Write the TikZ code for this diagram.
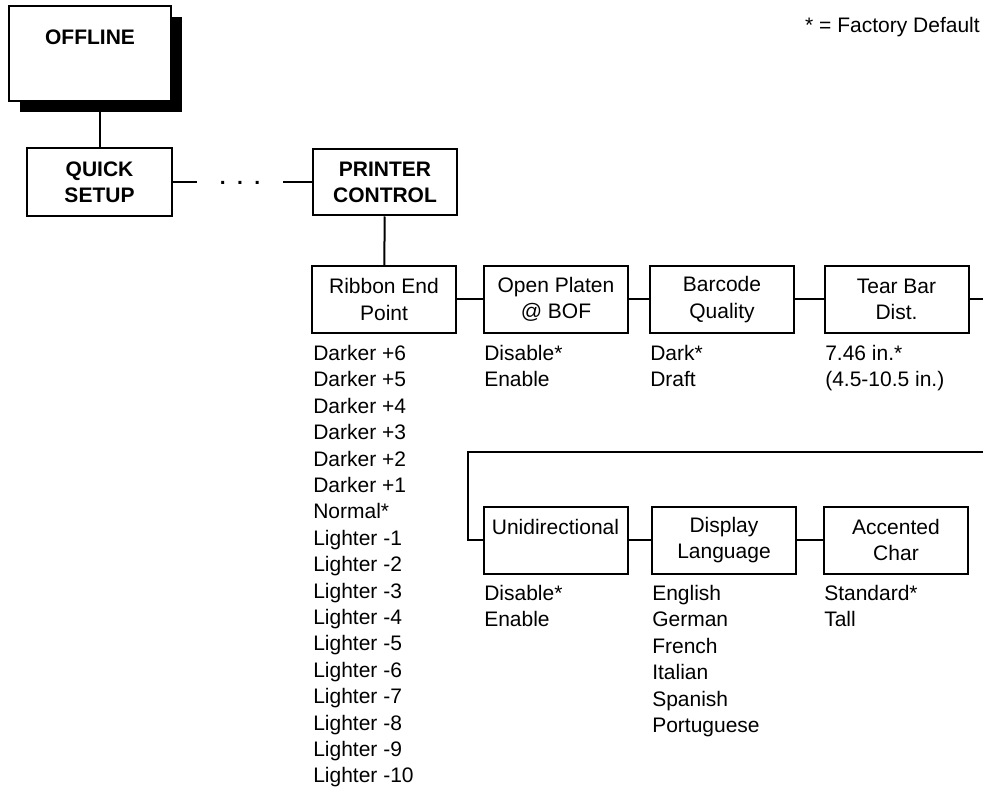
\documentclass[tikz,border=0pt]{standalone}
\usepackage{fontspec}
\setmainfont{Liberation Sans}
\usetikzlibrary{shadows}
\newcommand{\menufont}{\fontsize{15.75}{19.8}\selectfont}

\tikzset{
  menubox/.style={draw, line width=1.5pt, fill=white, inner sep=0pt, align=center,
    minimum width=108pt, minimum height=50.25pt, font=\menufont},
  headbox/.style={menubox, font=\menufont\bfseries},
  choices/.style={inner sep=0pt, align=left, anchor=north west, font=\menufont},
  link/.style={line width=1.5pt}
}

\begin{document}
\begin{tikzpicture}[x=0.75pt, y=-0.75pt]
\useasboundingbox (0,0) rectangle (983,788);
\node[anchor=base east, inner sep=0pt, font=\menufont] (legend) at (980,32.5) {* = Factory Default};

\node[headbox, minimum width=121.5pt, minimum height=71.25pt,
  drop shadow={shadow xshift=8.5pt, shadow yshift=-8.5pt, fill=black, opacity=1}] (offline) at (90,53.5) {};
\node[inner sep=0pt, font=\menufont\bfseries] (offlabel) at (90,37) {OFFLINE};
\node[headbox, minimum width=108.75pt, minimum height=51pt] (quick) at (99.5,182.5) {QUICK\\SETUP};
\node[inner sep=0pt, minimum width=64.5pt, font=\menufont\bfseries] (dots) at (240,182.5)
  {.\hspace{8.5pt}.\hspace{8.5pt}.};
\node[headbox, minimum height=49.5pt] (printer) at (385,182.5) {PRINTER\\CONTROL};
\draw[link] (quick.north) -- (quick.north |- offline.south);
\draw[link] (quick) -- (dots) -- (printer);

\node[menubox] (ribbon) at (384,299.5) {Ribbon End\\Point};
\node[menubox] (platen) at (556,299.5) {Open Platen\\@ BOF};
\node[menubox] (barcode) at (722,299.5) {Barcode\\Quality};
\node[menubox] (tearbar) at (896.5,299.5) {Tear Bar\\Dist.};
\coordinate (rowend) at (983,299.5);
\draw[link] (printer) -- (ribbon);
\draw[link] (ribbon) -- (platen) -- (barcode) -- (tearbar) -- (rowend);

\node[choices] (ribbonlist) at (313,345) {Darker +6\\Darker +5\\Darker +4\\Darker +3\\Darker +2\\Darker +1\\Normal*\\Lighter -1\\Lighter -2\\Lighter -3\\Lighter -4\\Lighter -5\\Lighter -6\\Lighter -7\\Lighter -8\\Lighter -9\\Lighter -10};
\node[choices] (platenlist) at (484,345) {Disable*\\Enable};
\node[choices] (barcodelist) at (650,345) {Dark*\\Draft};
\node[choices] (tearbarlist) at (825,345) {7.46 in.*\\(4.5-10.5 in.)};

\coordinate (wrapin) at (983,452);
\coordinate (wrapturn) at (468,452);
\node[menubox] (unidir) at (555.5,540) {Unidirectional\\\mbox{}};
\node[menubox] (language) at (724,540) {Display\\Language};
\node[menubox] (accented) at (896,540) {Accented\\Char};
\draw[link] (wrapin) -- (wrapturn) |- (unidir);
\draw[link] (unidir) -- (language) -- (accented);

\node[choices] (unidirlist) at (484,585) {Disable*\\Enable};
\node[choices] (languagelist) at (652,585) {English\\German\\French\\Italian\\Spanish\\Portuguese};
\node[choices] (accentedlist) at (824,585) {Standard*\\Tall};
\end{tikzpicture}
\end{document}
